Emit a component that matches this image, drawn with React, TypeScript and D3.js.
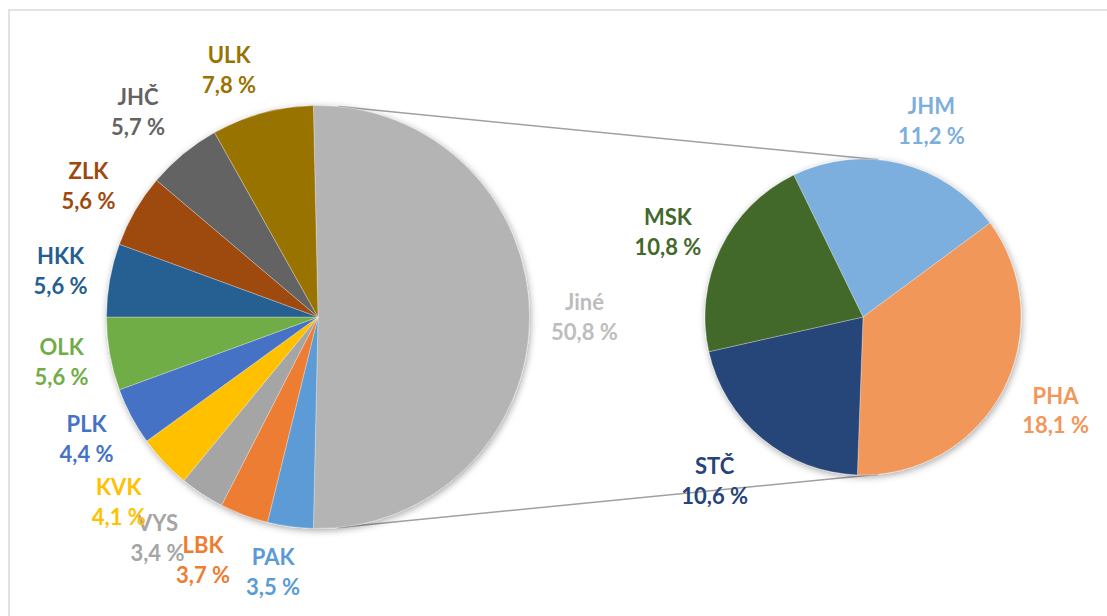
import React from "react";
import * as d3 from "d3";

// left pie (whole) – "Jiné" is split out into the right pie
const leftNames = ["Jiné", "PAK", "LBK", "VYS", "KVK", "PLK", "OLK", "HKK", "ZLK", "JHČ", "ULK"];
const leftValues = [50.8, 3.5, 3.7, 3.4, 4.1, 4.4, 5.6, 5.6, 5.6, 5.7, 7.8];
const leftColors = ["#b4b4b4", "#5b9bd5", "#ed7d31", "#a5a5a5", "#ffc000", "#4472c4", "#70ad47", "#255e91", "#9e480e", "#636363", "#997300"];

// right pie (detail of "Jiné")
const rightNames = ["JHM", "PHA", "STČ", "MSK"];
const rightValues = [11.2, 18.1, 10.6, 10.8];
const rightColors = ["#7cafdd", "#f1975a", "#264478", "#43682b"];

const fmt = (v: number) => v.toFixed(1).replace(".", ",") + " %";

// label nudges (px), Excel best-fit placement differs a bit from pure polar
const leftNudge = [[1, 0], [-10, -8], [-22, -5], [-15, -1], [-6, 3], [3, -2], [5, -1], [4, 1], [0, 3], [-11, 0], [-19, 9]];
const rightNudge = [[18, 10], [5, -5], [-13, 1], [-4, 7]];

const W = 1107;
const H = 616;

export default function App() {
  const left = { cx: 318, cy: 317, r: 211.5 };
  const right = { cx: 863, cy: 317, r: 158 };
  const labelGap = 54;

  const leftTotal = d3.sum(leftValues);
  const leftStart = Math.PI / 2 - (leftValues[0] / leftTotal) * Math.PI;
  const leftPie = d3.pie<number>().sort(null).startAngle(leftStart).endAngle(leftStart + 2 * Math.PI)(leftValues);

  const rightStart = (-26 * Math.PI) / 180;
  const rightPie = d3.pie<number>().sort(null).startAngle(rightStart).endAngle(rightStart + 2 * Math.PI)(rightValues);

  const leftArc = d3.arc<d3.PieArcDatum<number>>().innerRadius(0).outerRadius(left.r);
  const rightArc = d3.arc<d3.PieArcDatum<number>>().innerRadius(0).outerRadius(right.r);

  const polar = (c: { cx: number; cy: number }, rad: number, a: number) => [c.cx + rad * Math.sin(a), c.cy - rad * Math.cos(a)];

  // connector lines between the pies
  const conA = (5.6 * Math.PI) / 180;
  const lines = [
    [polar(left, left.r, conA), polar(right, right.r, conA)],
    [polar(left, left.r, Math.PI - conA), polar(right, right.r, Math.PI - conA)],
  ];

  const labelColor = (c: string, i: number, isLeft: boolean) => (isLeft && i === 0 ? "#bdbdbd" : c);

  const renderLabels = (
    pie: d3.PieArcDatum<number>[],
    c: { cx: number; cy: number; r: number },
    names: string[],
    colors: string[],
    nudge: number[][],
    isLeft: boolean
  ) =>
    pie.map((d, i) => {
      const mid = (d.startAngle + d.endAngle) / 2;
      const [x0, y0] = polar(c, c.r + labelGap, mid);
      const x = x0 + nudge[i][0];
      const y = y0 + nudge[i][1];
      return (
        <text
          key={names[i]}
          x={x}
          y={y}
          textAnchor="middle"
          fill={labelColor(colors[i], i, isLeft)}
          fontFamily="Lato, 'Open Sans', sans-serif"
          fontWeight="bold"
          fontSize={22}
        >
          <tspan x={x} dy="-0.33em">{names[i]}</tspan>
          <tspan x={x} dy="1.36em">{fmt(d.data)}</tspan>
        </text>
      );
    });

  return (
    <svg width={W} height={H} style={{ position: "absolute", left: 0, top: 0, background: "#fff" }}>
      <defs>
        <filter id="shadow" x="-20%" y="-20%" width="140%" height="140%">
          <feDropShadow dx="1" dy="2" stdDeviation="3.5" floodColor="#000" floodOpacity="0.35" />
        </filter>
      </defs>
      <rect x={9} y={10} width={W + 20} height={H + 20} fill="#fff" stroke="#d9d9d9" strokeWidth={1.5} />

      {lines.map((l, i) => (
        <line key={i} x1={l[0][0]} y1={l[0][1]} x2={l[1][0]} y2={l[1][1]} stroke="#a0a0a0" strokeWidth={1.5} />
      ))}

      <g transform={`translate(${left.cx},${left.cy})`} filter="url(#shadow)">
        {leftPie.map((d, i) => (
          <path key={leftNames[i]} d={leftArc(d) || ""} fill={leftColors[i]} stroke="#fff" strokeWidth={0.5} strokeOpacity={0.6} />
        ))}
      </g>
      <g transform={`translate(${right.cx},${right.cy})`} filter="url(#shadow)">
        {rightPie.map((d, i) => (
          <path key={rightNames[i]} d={rightArc(d) || ""} fill={rightColors[i]} stroke="#fff" strokeWidth={0.5} strokeOpacity={0.6} />
        ))}
      </g>

      {renderLabels(leftPie, left, leftNames, leftColors, leftNudge, true)}
      {renderLabels(rightPie, right, rightNames, rightColors, rightNudge, false)}
    </svg>
  );
}
